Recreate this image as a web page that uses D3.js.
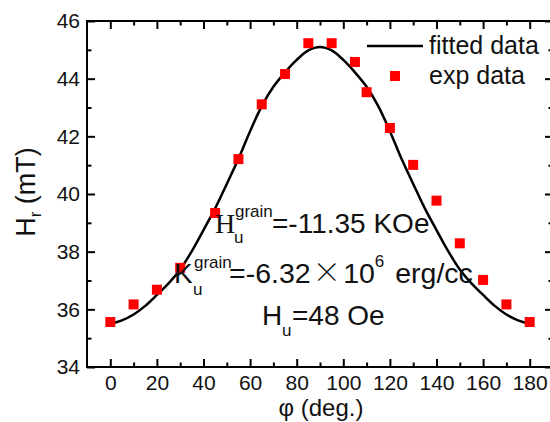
<!DOCTYPE html>
<html>
<head>
<meta charset="utf-8">
<script src="https://cdn.jsdelivr.net/npm/d3@7"></script>
<style>
  body { margin: 0; background: #fff; }
  svg { display: block; font-family: "Liberation Sans", Arial, sans-serif; }
</style>
</head>
<body>
<svg id="chart" width="550" height="422"></svg>
<script>
// experimental points
const expAngle = [0, 10, 20, 30, 45, 55, 65, 75, 85, 95, 105, 110, 120, 130, 140, 150, 160, 170, 180];
const expH = [35.56, 36.17, 36.68, 37.44, 39.34, 41.21, 43.11, 44.16, 45.23, 45.23, 44.58, 43.53, 42.29, 41.01, 39.77, 38.29, 37.02, 36.17, 35.56];

// fitted curve
const fitAngle = [0, 5, 10, 15, 20, 25, 30, 35, 40, 45, 50, 55, 60, 65, 70, 75, 80, 85, 90,
                  95, 100, 105, 110, 115, 120, 125, 130, 135, 140, 145, 150, 155, 160, 165, 170, 175, 180];
const fitH = [35.50, 35.62, 35.82, 36.12, 36.50, 36.90, 37.38, 38.02, 38.75, 39.50, 40.35, 41.22, 42.18, 43.05, 43.72, 44.22, 44.65, 44.98, 45.10,
              44.98, 44.65, 44.22, 43.72, 43.05, 42.18, 41.22, 40.35, 39.50, 38.75, 38.02, 37.38, 36.90, 36.50, 36.12, 35.82, 35.62, 35.50];

const xMajor = [0, 20, 40, 60, 80, 100, 120, 140, 160, 180];
const xMinor = [10, 30, 50, 70, 90, 110, 130, 150, 170];
const yMajor = [34, 36, 38, 40, 42, 44, 46];
const yMinor = [35, 37, 39, 41, 43, 45];

const mLeft = 87, mRight = 553, mTop = 21, mBottom = 367;

const svg = d3.select("#chart");

const x = d3.scaleLinear().domain([-10, 190]).range([mLeft, mRight]);
const y = d3.scaleLinear().domain([34, 46]).range([mBottom, mTop]);

// axes: ticks point inward
function styleAxis(g) {
  g.selectAll(".domain").remove();
  g.selectAll(".tick line").attr("stroke", "#000").attr("stroke-width", 2);
  g.selectAll("text").attr("fill", "#111").style("font-size", "21px")
    .style("font-family", "'Liberation Sans', Arial, sans-serif");
}

svg.append("g").attr("transform", "translate(0," + mBottom + ")")
  .call(d3.axisBottom(x).tickValues(xMajor).tickSizeInner(-8).tickSizeOuter(0).tickPadding(8.5))
  .call(styleAxis);
svg.append("g").attr("transform", "translate(0," + mBottom + ")")
  .call(d3.axisBottom(x).tickValues(xMinor).tickSizeInner(-4.5).tickSizeOuter(0).tickFormat(""))
  .call(styleAxis);
svg.append("g").attr("transform", "translate(0," + mTop + ")")
  .call(d3.axisTop(x).tickValues(xMajor).tickSizeInner(-8).tickSizeOuter(0).tickFormat(""))
  .call(styleAxis);
svg.append("g").attr("transform", "translate(0," + mTop + ")")
  .call(d3.axisTop(x).tickValues(xMinor).tickSizeInner(-4.5).tickSizeOuter(0).tickFormat(""))
  .call(styleAxis);

svg.append("g").attr("transform", "translate(" + mLeft + ",0)")
  .call(d3.axisLeft(y).tickValues(yMajor).tickSizeInner(-8).tickSizeOuter(0).tickPadding(7))
  .call(styleAxis);
svg.append("g").attr("transform", "translate(" + mLeft + ",0)")
  .call(d3.axisLeft(y).tickValues(yMinor).tickSizeInner(-4.5).tickSizeOuter(0).tickFormat(""))
  .call(styleAxis);
svg.append("g").attr("transform", "translate(" + mRight + ",0)")
  .call(d3.axisRight(y).tickValues(yMajor).tickSizeInner(-8).tickSizeOuter(0).tickFormat(""))
  .call(styleAxis);
svg.append("g").attr("transform", "translate(" + mRight + ",0)")
  .call(d3.axisRight(y).tickValues(yMinor).tickSizeInner(-4.5).tickSizeOuter(0).tickFormat(""))
  .call(styleAxis);

// frame
svg.append("rect")
  .attr("x", mLeft).attr("y", mTop)
  .attr("width", mRight - mLeft).attr("height", mBottom - mTop)
  .attr("fill", "none").attr("stroke", "#000").attr("stroke-width", 2);

// fitted curve
const line = d3.line()
  .x((d, i) => x(fitAngle[i]))
  .y(d => y(d))
  .curve(d3.curveCatmullRom);

svg.append("path")
  .datum(fitH)
  .attr("d", line)
  .attr("fill", "none")
  .attr("stroke", "#000")
  .attr("stroke-width", 2.5);

// experimental squares
const sq = 10;
svg.selectAll("rect.pt")
  .data(expH)
  .enter()
  .append("rect")
  .attr("class", "pt")
  .attr("x", (d, i) => x(expAngle[i]) - sq / 2)
  .attr("y", d => y(d) - sq / 2)
  .attr("width", sq)
  .attr("height", sq)
  .attr("fill", "#ff0000");

// legend
const lg = svg.append("g").attr("transform", "translate(367,46)");
lg.append("line").attr("x1", 0).attr("x2", 56).attr("y1", 0).attr("y2", 0)
  .attr("stroke", "#000").attr("stroke-width", 2.5);
lg.append("text").attr("x", 62).attr("y", 8).style("font-size", "25px").attr("fill", "#111").text("fitted data");
lg.append("rect").attr("x", 23).attr("y", 25).attr("width", sq).attr("height", sq).attr("fill", "#ff0000");
lg.append("text").attr("x", 62).attr("y", 38).style("font-size", "25px").attr("fill", "#111").text("exp data");

// axis titles
svg.append("text")
  .attr("x", 321).attr("y", 416)
  .attr("text-anchor", "middle")
  .style("font-size", "24px").attr("fill", "#111")
  .text("φ (deg.)");

const yl = svg.append("text")
  .attr("transform", "translate(35,192) rotate(-90)")
  .attr("text-anchor", "middle")
  .style("font-size", "27px").attr("fill", "#111");
yl.append("tspan").text("H");
yl.append("tspan").attr("dy", 6).style("font-size", "17px").text("r");
yl.append("tspan").attr("dy", -6).text(" (mT)");

// annotations
const ann = svg.append("g").attr("fill", "#111");
// line 1
ann.append("text").attr("x", 215).attr("y", 233).style("font-size", "28px")
  .style("font-family", "'Liberation Serif', 'Times New Roman', serif").text("H");
ann.append("text").attr("x", 235).attr("y", 217).style("font-size", "17px").text("grain");
ann.append("text").attr("x", 234).attr("y", 243).style("font-size", "17px").text("u");
ann.append("text").attr("x", 272).attr("y", 233).style("font-size", "28px").text("=-11.35 KOe");
// line 2
ann.append("text").attr("x", 174).attr("y", 283).style("font-size", "28px").text("K");
ann.append("text").attr("x", 194).attr("y", 268).style("font-size", "17px").text("grain");
ann.append("text").attr("x", 193).attr("y", 295).style("font-size", "17px").text("u");
const t2 = ann.append("text").attr("x", 229).attr("y", 283).style("font-size", "28.5px");
t2.append("tspan").text("=-6.32");
t2.append("tspan").attr("dx", 2).style("font-family", "'Noto Sans CJK SC', sans-serif").style("font-weight", 300).text("×");
t2.append("tspan").attr("dx", 2).text("10");
t2.append("tspan").attr("dy", -16).style("font-size", "17px").text("6");
t2.append("tspan").attr("dy", 16).attr("dx", 3).text(" erg/cc");
// line 3
ann.append("text").attr("x", 262).attr("y", 325).style("font-size", "28px").text("H");
ann.append("text").attr("x", 282).attr("y", 336).style("font-size", "17px").text("u");
ann.append("text").attr("x", 292).attr("y", 325).style("font-size", "28px").text("=48 Oe");
</script>
</body>
</html>
